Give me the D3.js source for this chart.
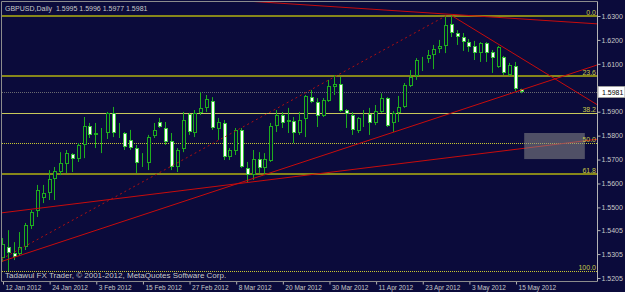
<!DOCTYPE html>
<html><head><meta charset="utf-8">
<script src="https://cdn.jsdelivr.net/npm/d3@7"></script>
<style>
html,body{margin:0;padding:0;background:#0b0b3b;}
svg{display:block;}
text{font-family:"Liberation Sans",Arial,sans-serif;}
</style></head><body>
<svg id="c" width="625" height="292"></svg>
<script>
// ---- data ----
const symbolTitle = "GBPUSD,Daily  1.5995 1.5996 1.5977 1.5981";
const copyright = "Tadawul FX Trader, \u00A9 2001-2012, MetaQuotes Software Corp.";
const opens=[1.5288,1.5334,1.5309,1.5305,1.5334,1.5422,1.5485,1.5539,1.5560,1.5619,
1.5648,1.5681,1.5723,1.5702,1.5761,1.5840,1.5803,1.5811,1.5811,1.5895,
1.5811,1.5811,1.5782,1.5748,1.5690,1.5686,1.5798,1.5857,1.5832,1.5778,
1.5669,1.5744,1.5890,1.5811,1.5895,1.5916,1.5945,1.5828,1.5853,1.5711,
1.5736,1.5824,1.5665,1.5635,1.5702,1.5665,1.5694,1.5840,1.5886,1.5857,
1.5861,1.5811,1.5870,1.5961,1.5941,1.5882,1.5945,1.6003,1.6016,1.5907,
1.5886,1.5819,1.5886,1.5890,1.5853,1.5899,1.5957,1.5853,1.5895,1.5920,
1.6007,1.6049,1.6120,1.6120,1.6137,1.6162,1.6175,1.6267,1.6229,1.6212,
1.6191,1.6175,1.6145,1.6187,1.6150,1.6087,1.6129,1.6053,1.6091,1.5995];
const highs=[1.5372,1.5405,1.5355,1.5397,1.5435,1.5489,1.5594,1.5594,1.5656,1.5669,
1.5731,1.5740,1.5727,1.5769,1.5878,1.5853,1.5853,1.5832,1.5899,1.5920,
1.5853,1.5815,1.5824,1.5761,1.5727,1.5803,1.5853,1.5874,1.5857,1.5811,
1.5748,1.5899,1.5895,1.5907,1.5981,1.5970,1.5961,1.5874,1.5865,1.5748,
1.5832,1.5832,1.5690,1.5740,1.5731,1.5727,1.5853,1.5907,1.5899,1.5916,
1.5878,1.5899,1.5970,1.5991,1.5957,1.5957,1.6033,1.6053,1.6045,1.5911,
1.5899,1.5878,1.5907,1.5916,1.5928,1.5977,1.5961,1.5903,1.5966,1.6020,
1.6074,1.6124,1.6129,1.6158,1.6179,1.6200,1.6296,1.6301,1.6241,1.6229,
1.6204,1.6196,1.6191,1.6191,1.6158,1.6175,1.6133,1.6104,1.6108,1.5996];
const lows=[1.5272,1.5234,1.5280,1.5300,1.5322,1.5410,1.5460,1.5518,1.5531,1.5531,
1.5635,1.5644,1.5648,1.5690,1.5706,1.5790,1.5748,1.5727,1.5786,1.5794,
1.5790,1.5740,1.5740,1.5644,1.5669,1.5656,1.5790,1.5832,1.5761,1.5656,
1.5648,1.5731,1.5803,1.5794,1.5886,1.5899,1.5824,1.5782,1.5698,1.5698,
1.5719,1.5665,1.5606,1.5615,1.5644,1.5635,1.5690,1.5815,1.5832,1.5811,
1.5769,1.5803,1.5794,1.5936,1.5836,1.5878,1.5941,1.5970,1.5899,1.5832,
1.5803,1.5811,1.5836,1.5803,1.5844,1.5895,1.5836,1.5815,1.5857,1.5916,
1.6003,1.6033,1.6070,1.6104,1.6078,1.6145,1.6145,1.6212,1.6179,1.6154,
1.6150,1.6116,1.6108,1.6108,1.6062,1.6083,1.6053,1.6049,1.5985,1.5977];
const closes=[1.5347,1.5309,1.5293,1.5334,1.5426,1.5481,1.5573,1.5560,1.5619,1.5652,
1.5686,1.5727,1.5702,1.5761,1.5840,1.5803,1.5811,1.5815,1.5895,1.5811,
1.5815,1.5752,1.5748,1.5686,1.5694,1.5794,1.5824,1.5836,1.5773,1.5669,
1.5740,1.5865,1.5815,1.5895,1.5916,1.5953,1.5832,1.5857,1.5711,1.5740,
1.5824,1.5669,1.5635,1.5702,1.5665,1.5702,1.5840,1.5886,1.5853,1.5865,
1.5811,1.5865,1.5966,1.5941,1.5882,1.5949,1.6007,1.6016,1.5903,1.5890,
1.5824,1.5874,1.5890,1.5853,1.5903,1.5957,1.5840,1.5895,1.5920,1.6012,
1.6045,1.6116,1.6124,1.6137,1.6162,1.6175,1.6262,1.6229,1.6212,1.6191,
1.6170,1.6145,1.6187,1.6145,1.6124,1.6170,1.6062,1.6095,1.5993,1.5981];
const dateTickBars=[0,8,16,24,32,40,48,56,64,72,80,88];
const dateTickLabels=["12 Jan 2012","24 Jan 2012","3 Feb 2012","15 Feb 2012","27 Feb 2012","8 Mar 2012","20 Mar 2012","30 Mar 2012","11 Apr 2012","23 Apr 2012","3 May 2012","15 May 2012"];
const priceTicks=[1.6300,1.6200,1.6100,1.5900,1.5800,1.5700,1.5600,1.5500,1.5405,1.5305,1.5205];
const bidPrice=1.5981;
// fibonacci retracement anchors [bar, price]
const fibAnchorLow=[-4,1.5234];
const fibAnchorHigh=[76,1.6301];
const fibLevels=[0,23.6,38.2,50,61.8,100];
// trendlines: [[bar,price],[bar,price]]
const trendA=[[44,1.6359],[102,1.6267]];
const trendB=[[77,1.6301],[102,1.5928]];
const trendC=[[0,1.5276],[102,1.6096]];
const trendD=[[0,1.5478],[102,1.5785]];
const boxBars=[89.4,99.8];
const boxPrices=[1.5811,1.5702];

// ---- drawing ----
const W=625,H=292, bg="#0b0b3b";
const svg=d3.select("#c");
svg.append("rect").attr("width",W).attr("height",H).attr("fill",bg);
const x=d3.scaleLinear().domain([0,102]).range([3,597.66]);
const y=d3.scaleLinear().domain([1.5205,1.6300]).range([278,16]);
const P={x0:2,x1:597.5,y0:2,y1:281};
svg.append("defs").append("clipPath").attr("id","clip").append("rect")
  .attr("x",P.x0).attr("y",P.y0).attr("width",P.x1-P.x0).attr("height",P.y1-P.y0);
const g=svg.append("g").attr("clip-path","url(#clip)");

// fib levels
const fibPrice=l=>fibAnchorHigh[1]-(fibAnchorHigh[1]-fibAnchorLow[1])*l/100;
const fibStyle={0:{c:"#87871a",w:2,d:null},23.6:{c:"#87871a",w:2,d:null},38.2:{c:"#c8c85a",w:1,d:null},
  50:{c:"#c8c830",w:1,d:"1,1"},61.8:{c:"#87871a",w:2,d:null},100:{c:"#c8c830",w:1,d:"1,1"}};
fibLevels.forEach(l=>{
  const yy=Math.round(y(fibPrice(l)))+(fibStyle[l].w===1?0.5:0);
  g.append("line").attr("x1",P.x0).attr("x2",P.x1).attr("y1",yy).attr("y2",yy)
   .attr("stroke",fibStyle[l].c).attr("stroke-width",fibStyle[l].w)
   .attr("stroke-dasharray",fibStyle[l].d);
});
// bid line
{const yy=Math.round(y(bidPrice))+0.5;
 g.append("line").attr("x1",P.x0).attr("x2",P.x1).attr("y1",yy).attr("y2",yy)
  .attr("stroke","#6a6a70").attr("stroke-width",1).attr("stroke-dasharray","1,1");}

// candles
const green="#1eae1e";
const idx=d3.range(opens.length);
const cg=g.append("g");
idx.forEach(i=>{
  const cx=Math.round(x(i));
  cg.append("line").attr("x1",cx-0.5).attr("x2",cx-0.5)
    .attr("y1",y(highs[i])).attr("y2",y(lows[i])).attr("stroke",green).attr("stroke-width",1);
  const top=Math.round(y(Math.max(opens[i],closes[i])));
  const bot=Math.round(y(Math.min(opens[i],closes[i])));
  const bull=closes[i]>=opens[i];
  cg.append("rect").attr("x",cx-1.5).attr("y",top+0.5)
    .attr("width",3).attr("height",Math.max(bot-top-1,0))
    .attr("fill",bull?bg:"#ffffff").attr("stroke",bull?green:"#3cc83c").attr("stroke-width",1);
});

// red trend lines
function extLine(a,b,mode){
  const x1=x(a[0]),y1=y(a[1]),x2=x(b[0]),y2=y(b[1]);
  const s=(y2-y1)/(x2-x1);
  const xs=mode==="ray"?x1:-50, xe=700;
  return [xs,y1+(xs-x1)*s,xe,y1+(xe-x1)*s];
}
const red="#c80c0c";
[[trendA,"line"],[trendB,"ray"],[trendC,"line"],[trendD,"line"]].forEach(([t,m])=>{
  const c=extLine(t[0],t[1],m);
  g.append("line").attr("x1",c[0]).attr("y1",c[1]).attr("x2",c[2]).attr("y2",c[3])
   .attr("stroke",red).attr("stroke-width",1);
});
// fib dotted trend
g.append("line").attr("x1",x(fibAnchorLow[0])).attr("y1",y(fibAnchorLow[1]))
 .attr("x2",x(fibAnchorHigh[0])).attr("y2",y(fibAnchorHigh[1]))
 .attr("stroke","#b01010").attr("stroke-width",1).attr("stroke-dasharray","2,3");
// rectangle
g.append("rect").attr("x",x(boxBars[0])).attr("y",y(boxPrices[0]))
 .attr("width",x(boxBars[1])-x(boxBars[0])).attr("height",y(boxPrices[1])-y(boxPrices[0]))
 .attr("fill","#8a8a8a").attr("opacity",0.55);

// fib labels
fibLevels.forEach(l=>{
  svg.append("text").attr("x",596).attr("y",Math.round(y(fibPrice(l)))-1.5)
   .attr("text-anchor","end").attr("font-size","7px").attr("fill","#c8c84a")
   .text(d3.format(".1f")(l));
});

// frame
svg.append("path").attr("d",`M${P.x0-0.5},${P.y1+0.5}V${P.y0-0.5}H${P.x1}`)
 .attr("fill","none").attr("stroke","#8c8c8c").attr("stroke-width",1);

// price axis
const ya=svg.append("g").attr("transform",`translate(${P.x1},0)`)
  .call(d3.axisRight(y).tickValues(priceTicks).tickFormat(d3.format(".4f")).tickSize(3).tickPadding(1));
ya.select(".domain").remove();
ya.selectAll("line").attr("stroke","#b4b4b4");
ya.selectAll("text").attr("fill","#c8c8c8").attr("font-size","7px").attr("font-family","Liberation Sans, Arial, sans-serif");
svg.append("line").attr("x1",P.x1).attr("x2",P.x1).attr("y1",P.y0-0.5).attr("y2",P.y1+0.5)
 .attr("stroke","#b4b4b4").attr("stroke-width",1);
// bid box
{const yy=y(bidPrice);
 svg.append("rect").attr("x",P.x1+0.5).attr("y",Math.round(yy)-5.5).attr("width",27).attr("height",11)
  .attr("fill","#ffffff").attr("stroke","#a0a0a0");
 svg.append("text").attr("x",602).attr("y",Math.round(yy)+2.5).attr("font-size","7px").attr("fill","#000")
  .text(d3.format(".4f")(bidPrice));}

// date axis
const xa=svg.append("g").attr("transform",`translate(0,${P.y1+0.5})`)
  .call(d3.axisBottom(x).tickValues(dateTickBars).tickFormat((d,i)=>dateTickLabels[i]).tickSize(3).tickPadding(1));
xa.select(".domain").remove();
xa.selectAll("line").attr("stroke","#b4b4b4");
xa.selectAll("text").attr("fill","#c8c8c8").attr("font-size","6.5px").attr("text-anchor","start")
  .attr("dx","2px").attr("font-family","Liberation Sans, Arial, sans-serif");
svg.append("line").attr("x1",P.x0-0.5).attr("x2",P.x1).attr("y1",P.y1+0.5).attr("y2",P.y1+0.5)
 .attr("stroke","#8c8c8c");

// titles
svg.append("text").attr("x",5).attr("y",10.5).attr("font-size","7px").attr("fill","#c8c8c8")
 .attr("xml:space","preserve").style("white-space","pre").text(symbolTitle);
svg.append("text").attr("x",5).attr("y",277.5).attr("font-size","8px").attr("fill","#c8c8c8").text(copyright);
</script></body></html>
